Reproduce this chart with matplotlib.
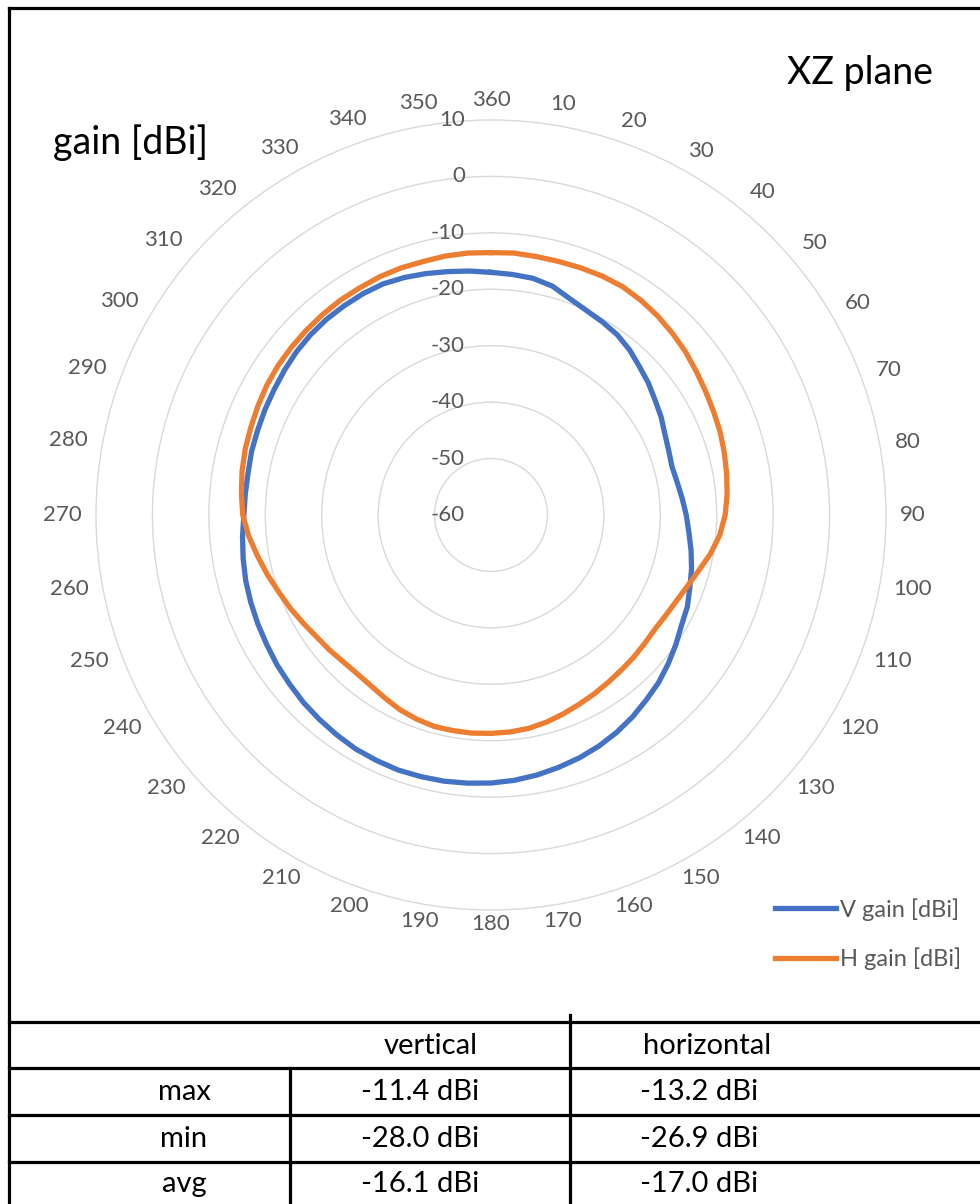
import numpy as np
import matplotlib
matplotlib.use('Agg')
import matplotlib.pyplot as plt
from matplotlib.transforms import offset_copy
from matplotlib.lines import Line2D

plt.rcParams['font.family'] = ['Lato', 'DejaVu Sans']

BLUE = '#4472C4'
ORANGE = '#ED7D31'
GRID = '#D9D9D9'
LABEL = '#595959'

# measurement angles [deg], 5 deg steps
angles = list(range(0, 360, 5))

v_gain = [-17.0, -17.2, -17.4, -18.0, -19.2, -20.0, -20.5, -21.0, -21.8, -22.8,
          -23.6, -24.5, -25.2, -26.0, -26.5, -26.8, -26.5, -26.0, -25.4, -24.8,
          -24.0, -23.2, -22.5, -21.6, -21.0, -20.0, -19.0, -18.0, -17.2, -16.3,
          -15.5, -14.8, -14.2, -13.7, -13.2, -12.8, -12.5, -12.3, -12.1, -12.0,
          -11.9, -12.0, -12.1, -12.4, -12.7, -13.0, -13.4, -13.7, -14.1, -14.4,
          -14.7, -15.0, -15.4, -15.8, -16.2, -16.3, -16.3, -16.1, -16.0, -15.8,
          -15.6, -15.3, -15.0, -14.8, -14.7, -14.7, -14.7, -14.8, -15.2, -15.7,
          -16.2, -16.6]

h_gain = [-13.5, -13.4, -13.5, -13.5, -13.4, -13.3, -13.3, -13.6, -14.0, -14.5,
          -15.0, -15.6, -16.1, -16.5, -16.8, -17.2, -17.6, -18.0, -18.5, -19.3,
          -20.5, -21.9, -23.0, -23.8, -24.3, -24.6, -24.5, -24.3, -24.1, -23.8,
          -23.4, -23.0, -22.5, -22.0, -21.6, -21.4, -21.3, -21.2, -21.2, -21.2,
          -21.5, -21.9, -22.5, -23.0, -23.2, -23.1, -22.7, -22.3, -21.6, -20.8,
          -20.0, -19.0, -18.0, -16.9, -16.0, -15.6, -15.2, -14.9, -14.7, -14.4,
          -14.1, -13.9, -13.8, -13.7, -13.6, -13.5, -13.5, -13.4, -13.4, -13.5,
          -13.4, -13.4]

angle_ticks = list(range(10, 361, 10))
r_ticks = [-60, -50, -40, -30, -20, -10, 0, 10]

row_names = ['max', 'min', 'avg']
vertical_vals = ['-11.4 dBi', '-28.0 dBi', '-16.1 dBi']
horizontal_vals = ['-13.2 dBi', '-26.9 dBi', '-17.0 dBi']

W, H = 980, 1204
fig = plt.figure(figsize=(W / 100, H / 100), dpi=100)
fig.patch.set_facecolor('white')

# polar chart, center at (491, 515) px, outer ring radius 395 px
cx, cy, R = 491, 515, 395
ax = fig.add_axes([(cx - R) / W, (H - cy - R) / H, 2 * R / W, 2 * R / H],
                  projection='polar')
ax.set_theta_zero_location('N')
ax.set_theta_direction(-1)
ax.set_ylim(-60, 10)
ax.set_xticks([])
ax.set_yticks(r_ticks[1:-1])
ax.set_yticklabels([])
ax.yaxis.grid(True, color=GRID, lw=1.0)
ax.spines['polar'].set_color(GRID)
ax.spines['polar'].set_linewidth(1.0)
ax.set_facecolor('none')

th = np.deg2rad(angles + [angles[0]])
ax.plot(th, v_gain + [v_gain[0]], color=BLUE, lw=3.8, solid_joinstyle='round',
        label='V gain [dBi]', clip_on=False)
ax.plot(th, h_gain + [h_gain[0]], color=ORANGE, lw=3.8, solid_joinstyle='round',
        label='H gain [dBi]', clip_on=False)

# radial value labels, left of the vertical axis
rtrans = offset_copy(ax.transData, fig=fig, x=-26, y=0, units='dots')
for v in r_ticks:
    ax.text(0, v, str(v), transform=rtrans, ha='right', va='center',
            fontsize=16, color=LABEL)

# angle labels just outside the outer ring (gap measured from text box)
for a in angle_ticks:
    t = np.deg2rad(a)
    s, c = np.sin(t), np.cos(t)
    hw = 6.5 * len(str(a))
    gap = 14 - 3 * max(c, 0) - 9 * max(-c, 0)
    d = gap + abs(s) * hw + abs(c) * 9
    tr = offset_copy(ax.transData, fig=fig, x=d * s, y=d * c, units='dots')
    ax.text(t, 10, str(a), transform=tr, ha='center', va='center',
            fontsize=16, color=LABEL, clip_on=False)

fig.text(787 / W, 1 - 73 / H, 'XZ plane', fontsize=27, color='black',
         ha='left', va='center')
fig.text(53 / W, 1 - 143 / H, 'gain [dBi]', fontsize=27, color='black',
         ha='left', va='center')

leg = fig.legend(loc='upper left', bbox_to_anchor=(775 / W, 1 - 898 / H),
                 frameon=False, fontsize=17, handlelength=2.6,
                 handletextpad=0.15, labelspacing=1.15, borderpad=0,
                 borderaxespad=0)
for t in leg.get_texts():
    t.set_color(LABEL)

# table + frame drawn in pixel coordinates
tab = fig.add_axes([0, 0, 1, 1])
tab.set_xlim(0, W)
tab.set_ylim(H, 0)
tab.axis('off')
tab.patch.set_alpha(0)

lw = 2.3
tab.add_line(Line2D([9, 9], [8, H], color='black', lw=lw))
tab.add_line(Line2D([9, W], [8, 8], color='black', lw=lw))
for y in [1022, 1068, 1115, 1162]:
    tab.add_line(Line2D([9, W], [y, y], color='black', lw=lw))
tab.add_line(Line2D([570, 570], [1015, H], color='black', lw=lw))
tab.add_line(Line2D([290, 290], [1068, H], color='black', lw=lw))

fs = 21
tab.text(431, 1046, 'vertical', fontsize=fs, ha='center', va='center')
tab.text(643, 1046, 'horizontal', fontsize=fs, ha='left', va='center')
row_y = [1092, 1139, 1184]
for name, vv, hv, y in zip(row_names, vertical_vals, horizontal_vals, row_y):
    tab.text(184, y, name, fontsize=fs, ha='center', va='center')
    tab.text(420, y, vv, fontsize=fs, ha='center', va='center')
    tab.text(640, y, hv, fontsize=fs, ha='left', va='center')

fig.savefig('out.png', dpi=100, facecolor='white')
